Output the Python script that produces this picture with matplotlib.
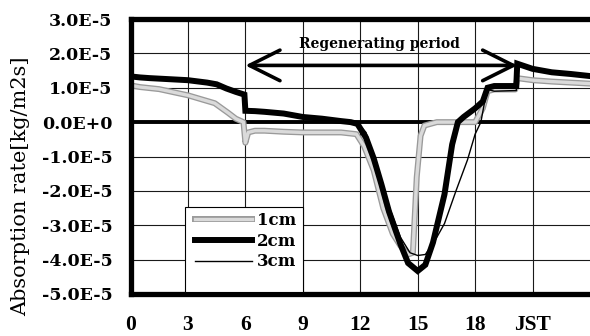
import matplotlib
matplotlib.use("Agg")
import matplotlib.pyplot as plt
import matplotlib.patheffects as pe
from matplotlib.patches import Rectangle

# ---- data (values in units of 1E-5 kg/m2s) ----
hours_1cm = [0, 0.5, 1.5, 3, 4.4, 5.1, 5.5, 5.9, 6.0, 6.15, 6.5, 7, 8, 9, 10, 11, 11.8,
             12.2, 12.7, 13.2, 13.7, 14.1, 14.5, 14.75, 14.95, 15.15, 15.35, 16, 17, 18.0,
             18.4, 18.65, 19, 20.1, 20.2, 21, 22, 23, 24]
vals_1cm = [1.07, 1.02, 0.96, 0.78, 0.55, 0.27, 0.1, 0.0, -0.6, -0.3, -0.25, -0.25, -0.28, -0.3, -0.3, -0.3, -0.35,
            -0.7, -1.4, -2.5, -3.25, -3.6, -3.85, -3.8, -1.6, -0.4, -0.1, 0.0, 0.0, 0.0,
            0.4, 0.9, 0.95, 0.95, 1.28, 1.22, 1.18, 1.15, 1.12]

hours_2cm = [0, 0.5, 1, 2, 3, 4, 4.5, 5, 5.5, 5.95, 6.0, 6.5, 7, 8, 9, 10, 11, 11.5, 11.85,
             12.3, 12.7, 13.1, 13.5, 14.1, 14.5, 15.0, 15.4, 15.8, 16.4, 16.8, 17.1, 17.4,
             18.0, 18.4, 18.65, 19, 20.15, 20.2, 21, 22, 23, 24]
vals_2cm = [1.33, 1.3, 1.28, 1.25, 1.22, 1.15, 1.1, 0.98, 0.88, 0.8, 0.33, 0.32, 0.3, 0.25, 0.15, 0.1, 0.03, 0.0, -0.05,
            -0.45, -1.05, -1.8, -2.6, -3.55, -4.1, -4.33, -4.15, -3.5, -2.1, -0.65, 0.0, 0.15,
            0.4, 0.6, 1.0, 1.05, 1.05, 1.7, 1.55, 1.45, 1.4, 1.34]

hours_3cm = [0, 0.5, 1, 2, 3, 4, 4.5, 5, 5.5, 5.95, 6.0, 6.5, 7, 8, 9, 10, 11, 11.5, 11.9,
             12.3, 12.9, 13.5, 14.1, 14.6, 15.0, 15.4, 15.9, 16.4, 17.0, 17.6, 18.0, 18.3,
             18.5, 18.65, 19, 20.15, 20.2, 21, 22, 23, 24]
vals_3cm = [1.33, 1.3, 1.28, 1.25, 1.22, 1.15, 1.1, 0.98, 0.88, 0.8, 0.33, 0.32, 0.3, 0.25, 0.15, 0.1, 0.03, 0.0, -0.05,
            -0.3, -1.3, -2.45, -3.35, -3.8, -3.88, -3.85, -3.45, -2.95, -2.0, -1.1, -0.35, 0.0,
            0.6, 0.95, 0.9, 0.92, 1.68, 1.53, 1.43, 1.38, 1.32]

series_labels = ["1cm", "2cm", "3cm"]
y_ticks = [3, 2, 1, 0, -1, -2, -3, -4, -5]
y_tick_labels = ["3.0E-5", "2.0E-5", "1.0E-5", "0.0E+0", "-1.0E-5", "-2.0E-5",
                 "-3.0E-5", "-4.0E-5", "-5.0E-5"]
x_ticks = [0, 3, 6, 9, 12, 15, 18, 21]
x_tick_labels = ["0", "3", "6", "9", "12", "15", "18", "JST"]
period_start, period_end, period_level = 6.0, 20.2, 1.65
period_text = "Regenerating period"
ylabel_text = "Absorption rate[kg/m2s]"

# ---- figure ----
W, H = 590, 336
fig = plt.figure(figsize=(W / 100, H / 100), dpi=100)
ax = fig.add_axes([130.5 / W, 1 - 294 / H, (W - 130.5) / W, (294 - 19) / H])

ax.set_xlim(0, 24)
ax.set_ylim(-5, 3)

# grid
for xv in x_ticks[1:]:
    ax.axvline(xv, color="#1a1a1a", lw=0.8, zorder=1)
for yv in y_ticks:
    ax.axhline(yv, color="#1a1a1a", lw=0.8, zorder=1)
ax.axhline(0, color="black", lw=2.8, zorder=2)

l1, = ax.plot(hours_1cm, vals_1cm, color="#dadada", lw=2.4, zorder=3,
              path_effects=[pe.Stroke(linewidth=4.3, foreground="#9a9a9a"), pe.Normal()],
              label=series_labels[0])
l2, = ax.plot(hours_2cm, vals_2cm, color="black", lw=4.3, zorder=4,
              solid_joinstyle="miter", label=series_labels[1])
l3, = ax.plot(hours_3cm, vals_3cm, color="black", lw=1.0, zorder=5, label=series_labels[2])

# regenerating period arrow
ax.annotate("", xy=(period_start, period_level), xytext=(period_end, period_level),
            arrowprops=dict(arrowstyle="<->,head_length=2.2,head_width=1.1",
                            mutation_scale=10, lw=2.6, color="black",
                            shrinkA=0, shrinkB=0), zorder=6)
ax.text((period_start + period_end) / 2 - 0.1, 2.27, period_text,
        ha="center", va="center", fontsize=10, family="DejaVu Serif",
        fontweight="bold", zorder=6)

# spines
for s in ["left", "top", "bottom"]:
    ax.spines[s].set_linewidth(3.8)
    ax.spines[s].set_color("black")
    ax.spines[s].set_zorder(7)
ax.spines["right"].set_visible(False)

ax.set_yticks(y_ticks)
ax.set_yticklabels(y_tick_labels, family="DejaVu Serif", fontweight="bold", fontsize=12.5)
ax.set_xticks(x_ticks)
ax.set_xticklabels(x_tick_labels, family="Liberation Serif", fontweight="bold", fontsize=15.5)
ax.tick_params(axis="y", length=0, pad=13)
ax.tick_params(axis="x", length=0, pad=15)

fig.text(21 / W, 1 - 186 / H, ylabel_text, rotation=90, ha="center", va="center",
         family="DejaVu Serif", fontsize=15)

# legend frame (drawn manually) and entries
x0, x1 = (185 - 130.5) / 459.5, (303 - 130.5) / 459.5
y0, y1 = (294 - 292) / 275, (294 - 207) / 275
ax.add_patch(Rectangle((x0, y0), x1 - x0, y1 - y0, transform=ax.transAxes,
                       facecolor="white", edgecolor="black", lw=0.8, zorder=8))
leg = ax.legend(handles=[l1, l2, l3], loc="upper left",
                bbox_to_anchor=(x0 + 5 / 459.5, y1),
                borderaxespad=0, frameon=False,
                prop=dict(family="DejaVu Serif", weight="bold", size=12),
                handlelength=3.4, handletextpad=0.3, labelspacing=0.22,
                borderpad=0.3)
leg.set_zorder(9)

fig.savefig("out.png", dpi=100)
